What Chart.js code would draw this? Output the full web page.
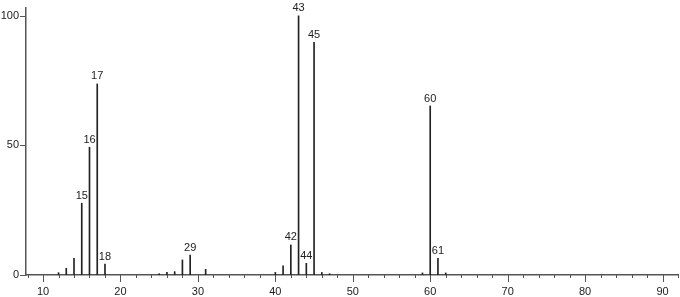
<!DOCTYPE html>
<html>
<head>
<meta charset="utf-8">
<script src="https://cdn.jsdelivr.net/npm/chart.js@4.4.0/dist/chart.umd.min.js"></script>
<style>
  html, body { margin: 0; padding: 0; background: #fff; }
  #wrap { width: 680px; height: 297px; }
</style>
</head>
<body>
<div id="wrap"><canvas id="ms"></canvas></div>
<script>
// mass spectrum: m/z and relative intensity
const mz        = [12, 13, 14, 15, 16, 17, 18, 25, 26, 27, 28, 29, 31, 40, 41, 42, 43, 44, 45, 46, 47, 59, 60, 61, 62];
const intensity = [0.9, 2.6, 6.4, 27.7, 49.3, 73.7, 4.2, 0.5, 1.0, 1.3, 5.8, 7.7, 2.2, 1.0, 3.5, 11.6, 100, 4.5, 89.8, 1.0, 0.5, 0.8, 65.2, 6.4, 0.8];
const labelled  = [15, 16, 17, 18, 29, 42, 43, 44, 45, 60, 61];
const xTicks    = [10, 20, 30, 40, 50, 60, 70, 80, 90];
const yTicks    = [0, 50, 100];

const FONT = 'Liberation Sans, Arial, sans-serif';
const AXIS = '#555';

const peakLabels = {
  id: 'peakLabels',
  afterDatasetsDraw(chart) {
    const ctx = chart.ctx;
    const meta = chart.getDatasetMeta(0);
    ctx.save();
    ctx.font = '11px ' + FONT;
    ctx.fillStyle = '#222';
    ctx.textAlign = 'center';
    ctx.textBaseline = 'bottom';
    meta.data.forEach((bar, i) => {
      if (labelled.includes(mz[i])) ctx.fillText(String(mz[i]), bar.x, bar.y - 2);
    });
    ctx.restore();
  },
  afterDraw(chart) {
    const { ctx, scales: { x, y } } = chart;
    ctx.save();
    ctx.strokeStyle = AXIS;
    ctx.lineWidth = 1;
    ctx.beginPath();
    for (let v = 8; v <= 92; v += 2) {
      const px = Math.round(x.getPixelForValue(v)) + 0.5;
      const len = v % 10 === 0 ? 7 : 3;
      ctx.moveTo(px, y.bottom);
      ctx.lineTo(px, y.bottom + len);
    }
    yTicks.forEach(v => {
      const py = Math.round(y.getPixelForValue(v)) + 0.5;
      ctx.moveTo(x.left - 6, py);
      ctx.lineTo(x.left, py);
    });
    ctx.stroke();
    ctx.restore();
  }
};

new Chart(document.getElementById('ms'), {
  type: 'bar',
  data: {
    datasets: [{
      data: mz.map((m, i) => ({ x: m, y: intensity[i] })),
      backgroundColor: '#222',
      borderWidth: 0,
      barThickness: 1
    }]
  },
  options: {
    responsive: true,
    maintainAspectRatio: false,
    animation: false,
    layout: { padding: { top: 8, right: 2, left: 0, bottom: 0 } },
    plugins: { legend: { display: false }, tooltip: { enabled: false } },
    scales: {
      x: {
        type: 'linear',
        offset: false,
        min: 7.8,
        max: 92,
        grid: { display: false, drawTicks: false, offset: false },
        border: { color: AXIS, width: 1.5 },
        ticks: { font: { family: FONT, size: 11 }, color: '#222', padding: 10, maxRotation: 0 },
        afterBuildTicks: s => { s.ticks = xTicks.map(v => ({ value: v })); },
        afterFit: s => { s.height = 22; s.paddingLeft = 0; s.paddingRight = 0; }
      },
      y: {
        min: 0,
        max: 103,
        grid: { display: false, drawTicks: false },
        border: { color: AXIS, width: 1.5 },
        ticks: { font: { family: FONT, size: 11 }, color: '#222', padding: 7 },
        afterBuildTicks: s => { s.ticks = yTicks.map(v => ({ value: v })); },
        afterFit: s => { s.width = 26; s.paddingTop = 0; s.paddingBottom = 0; }
      }
    }
  },
  plugins: [peakLabels]
});
</script>
</body>
</html>
